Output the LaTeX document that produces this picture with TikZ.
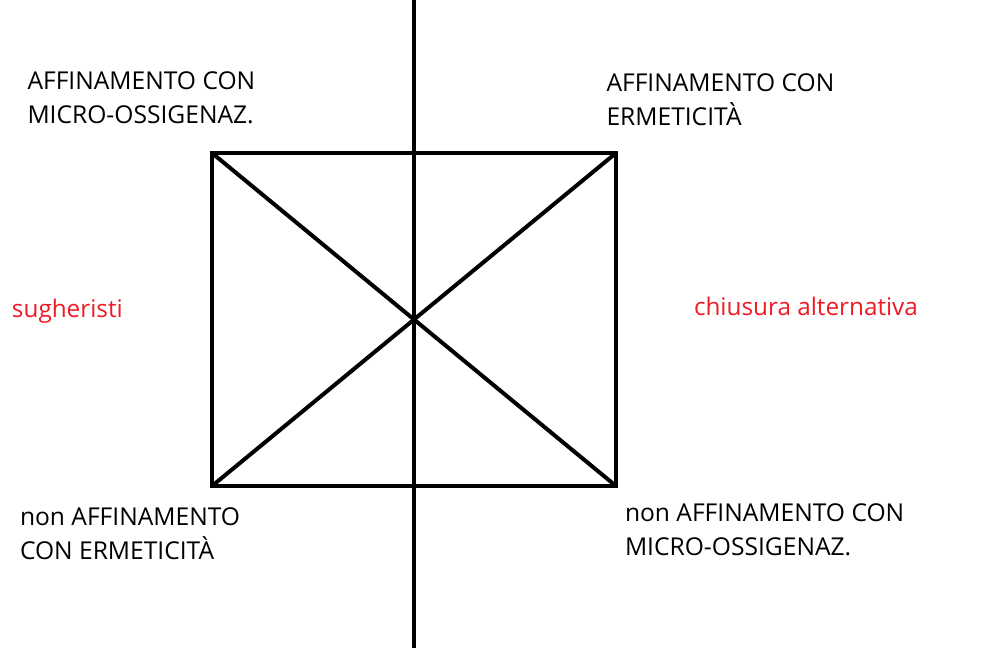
\documentclass[tikz,border=0pt]{standalone}
\usepackage{fontspec}
\setmainfont{Open Sans}
\usepackage{xcolor}
\definecolor{paintred}{RGB}{237,28,36}

\begin{document}
\begin{tikzpicture}[x=1pt,y=-1pt,line width=4pt]
    \tikzstyle{every node}=[inner sep=0pt,font=\fontsize{24.6}{34}\selectfont]
    \tikzstyle{term}=[anchor=north west,align=left]
    \tikzstyle{side}=[anchor=base west,text=paintred,font=\fontsize{24.3}{34}\selectfont]
    \useasboundingbox (0,0) rectangle (982,648);

    \coordinate (tl) at (212,153);
    \coordinate (tr) at (616,153);
    \coordinate (br) at (616,486);
    \coordinate (bl) at (212,486);
    \coordinate (top) at (414,0);
    \coordinate (bottom) at (414,648);

    \node[term] (micro) at (25.5,69.7) {AFFINAMENTO CON\\MICRO-OSSIGENAZ.};
    \node[term] (erme) at (604.5,71.7) {AFFINAMENTO CON\\ERMETICITÀ};
    \node[term] (nonerme) at (18,505.7) {non AFFINAMENTO\\CON ERMETICITÀ};
    \node[term] (nonmicro) at (623,501.4) {non AFFINAMENTO CON\\MICRO-OSSIGENAZ.};
    \node[side] (sugh) at (10,317) {sugheristi};
    \node[side] (alt) at (692,315) {chiusura alternativa};

    \draw (tl) -- (tr) -- (br) -- (bl) -- cycle;
    \draw   (tl)    edge    (br)
            (tr)    edge    (bl)
            (top)   edge    (bottom);
\end{tikzpicture}
\end{document}
